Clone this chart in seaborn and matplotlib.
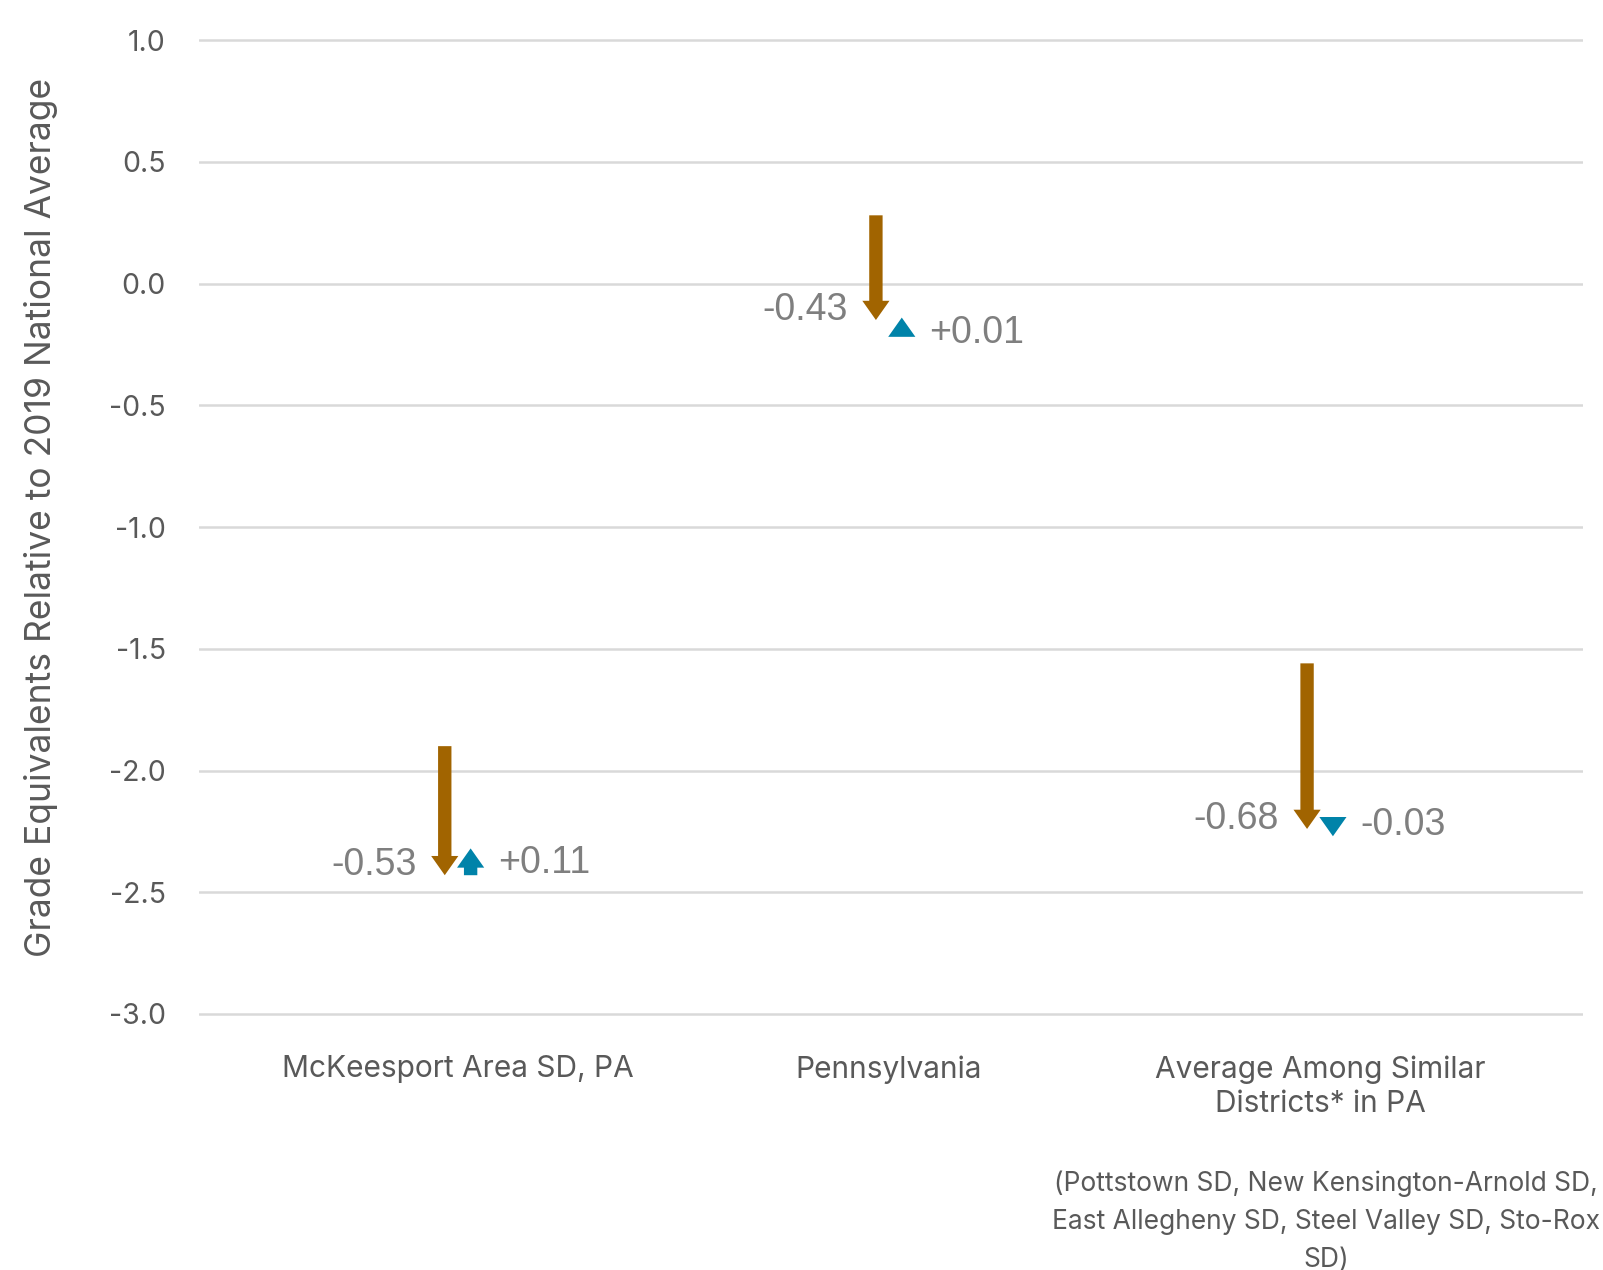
import numpy as np
import pandas as pd
import matplotlib
matplotlib.use("Agg")
import matplotlib.pyplot as plt
from matplotlib.patches import FancyArrow
import seaborn as sns

# datos
categorias = ["McKeesport Area SD, PA", "Pennsylvania", "Average Among Similar\nDistricts* in PA"]
inicio = [-1.90, 0.28, -1.56]          # punto de partida (flecha marron)
cambio_1 = [-0.53, -0.43, -0.68]       # primer cambio (marron)
cambio_2 = [0.11, 0.01, -0.03]         # segundo cambio (azul)
etiquetas_1 = ["-0.53", "-0.43", "-0.68"]
etiquetas_2 = ["+0.11", "+0.01", "-0.03"]
yticks = [1.0, 0.5, 0.0, -0.5, -1.0, -1.5, -2.0, -2.5, -3.0]
nota = "(Pottstown SD, New Kensington-Arnold SD,\nEast Allegheny SD, Steel Valley SD, Sto-Rox\nSD)"

df = pd.DataFrame({"categoria": categorias, "inicio": inicio,
                   "cambio_1": cambio_1, "cambio_2": cambio_2})
df["fin_1"] = df["inicio"] + df["cambio_1"]
df["fin_2"] = df["fin_1"] + df["cambio_2"]

sns.set_theme(style="white")
plt.rcParams["font.family"] = ["Inter", "DejaVu Sans"]

marron = "#A16400"
azul = "#0083A9"
gris = "#595959"
gris_claro = "#7F7F7F"

W, H = 1603, 1270
fig = plt.figure(figsize=(W / 100, H / 100), dpi=100)
# ylim (-3.1, 1.1): 1.0 en y=40px, -3.0 en y=1014px
ax = fig.add_axes([199 / W, 1 - 1038.35 / H, (1583 - 199) / W, (1038.35 - 15.65) / H])
ax.set_xlim(-0.6, 2.61)
ax.set_ylim(-3.1, 1.1)

ax.set_yticks(yticks)
ax.set_yticklabels([f"{v:.1f}" for v in yticks])
ax.yaxis.grid(True, color="#D9D9D9", linewidth=1.8, zorder=0)
ax.set_axisbelow(True)
ax.set_xticks(range(len(categorias)))
ax.set_xticklabels(categorias, linespacing=1.3)
ax.tick_params(axis="y", length=0, pad=24, labelsize=20.5, labelcolor=gris)
ax.tick_params(axis="x", length=0, pad=12, labelsize=21.5, labelcolor=gris)
sns.despine(ax=ax, left=True, bottom=True, top=True, right=True)

dx = 0.03
largo_punta = 0.079


def flecha(x, y0, dy, color):
    # si el cambio es menor que la punta, solo se dibuja la punta con el vertice en el final
    if abs(dy) < largo_punta:
        fin = y0 + dy
        signo = 1 if dy >= 0 else -1
        y0 = fin - signo * largo_punta
        dy = signo * largo_punta
    ax.add_patch(FancyArrow(x, y0, 0, dy, width=0.031, head_width=0.063,
                            head_length=largo_punta, length_includes_head=True,
                            color=color, lw=0, zorder=3))


for i, fila in df.iterrows():
    xb = i - dx
    xa = i + dx
    flecha(xb, fila["inicio"], fila["cambio_1"], marron)
    flecha(xa, fila["fin_1"], fila["cambio_2"], azul)
    ax.annotate(etiquetas_1[i], xy=(xb, fila["fin_1"]), xytext=(-28, 10),
                textcoords="offset pixels", ha="right", va="center",
                fontsize=27, color=gris_claro, family=["Liberation Sans", "DejaVu Sans"])
    off = -15 if fila["cambio_2"] > 0 else 11
    ax.annotate(etiquetas_2[i], xy=(xa, fila["fin_2"]), xytext=(27, off),
                textcoords="offset pixels", ha="left", va="center",
                fontsize=27, color=gris_claro, family=["Liberation Sans", "DejaVu Sans"])

fig.text(41 / W, 1 - 517 / H, "Grade Equivalents Relative to 2019 National Average",
         rotation=90, ha="center", va="center", fontsize=25.5, color=gris)

fig.text(1326 / W, 1 - 1222 / H, nota, ha="center", va="center", multialignment="center",
         fontsize=19, color=gris, linespacing=1.6)

fig.savefig("out.png", dpi=100)
plt.close(fig)
